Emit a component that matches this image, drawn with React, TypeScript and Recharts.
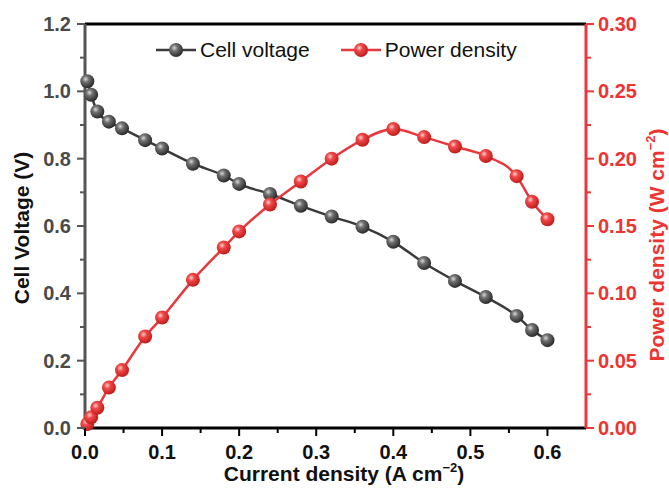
import { LineChart, Line, XAxis, YAxis, ReferenceLine } from 'recharts';

// Current density (A cm^-2)
const current = [0.003, 0.008, 0.016, 0.031, 0.048, 0.078, 0.1, 0.14, 0.18, 0.2, 0.24, 0.28, 0.32, 0.36, 0.4, 0.44, 0.48, 0.52, 0.56, 0.58, 0.6];
// Cell voltage (V)
const voltage = [1.03, 0.99, 0.94, 0.91, 0.89, 0.855, 0.83, 0.785, 0.75, 0.725, 0.695, 0.66, 0.628, 0.598, 0.553, 0.49, 0.437, 0.389, 0.333, 0.291, 0.261];
// Power density (W cm^-2)
const power = [0.003, 0.008, 0.015, 0.03, 0.043, 0.068, 0.082, 0.11, 0.134, 0.146, 0.166, 0.183, 0.2, 0.214, 0.222, 0.216, 0.209, 0.202, 0.187, 0.168, 0.155];

const xTicks = [0, 0.05, 0.1, 0.15, 0.2, 0.25, 0.3, 0.35, 0.4, 0.45, 0.5, 0.55, 0.6];
const vTicks = [0, 0.1, 0.2, 0.3, 0.4, 0.5, 0.6, 0.7, 0.8, 0.9, 1.0, 1.1, 1.2];
const pTicks = [0, 0.025, 0.05, 0.075, 0.1, 0.125, 0.15, 0.175, 0.2, 0.225, 0.25, 0.275, 0.3];

const data = current.map((c, i) => ({ current: c, voltage: voltage[i], power: power[i] }));

const FONT = 'Liberation Sans, Arial, sans-serif';
const GRAY = '#3a3a3a';
const RED = '#e8383d';
const RED_TEXT = '#ee3333';

const Sphere = ({ cx, cy, grad }: { cx: number; cy: number; grad: string }) => (
  <circle cx={cx} cy={cy} r={7} fill={`url(#${grad})`} stroke="none" />
);

const Gradients = () => (
  <defs>
    <radialGradient id="gGray" cx="38%" cy="35%" r="65%">
      <stop offset="0%" stopColor="#d8d8d8" />
      <stop offset="35%" stopColor="#707070" />
      <stop offset="100%" stopColor="#2a2a2a" />
    </radialGradient>
    <radialGradient id="gRed" cx="38%" cy="35%" r="65%">
      <stop offset="0%" stopColor="#ffd0d0" />
      <stop offset="35%" stopColor="#f04848" />
      <stop offset="100%" stopColor="#c01c1c" />
    </radialGradient>
  </defs>
);

const LeftTick = (props: any) => {
  const { x, y, payload } = props;
  const major = vTicks.indexOf(payload.value) % 2 === 0;
  return (
    <g>
      <line x1={x} x2={x - (major ? 8 : 5)} y1={y} y2={y} stroke="#555" strokeWidth={2} />
      {major && (
        <text x={x - 14} y={y} dy="0.35em" textAnchor="end" fontFamily={FONT} fontWeight="bold" fontSize={20} fill="#4a4a4a">
          {payload.value.toFixed(1)}
        </text>
      )}
    </g>
  );
};

const RightTick = (props: any) => {
  const { x, y, payload } = props;
  const major = pTicks.indexOf(payload.value) % 2 === 0;
  return (
    <g>
      <line x1={x} x2={x + (major ? 8 : 5)} y1={y} y2={y} stroke={RED} strokeWidth={2} />
      {major && (
        <text x={x + 12} y={y} dy="0.35em" textAnchor="start" fontFamily={FONT} fontWeight="bold" fontSize={20} fill={RED_TEXT}>
          {payload.value.toFixed(2)}
        </text>
      )}
    </g>
  );
};

const BottomTick = (props: any) => {
  const { x, y, payload } = props;
  const major = xTicks.indexOf(payload.value) % 2 === 0;
  return (
    <g>
      <line x1={x} x2={x} y1={y} y2={y + (major ? 8 : 5)} stroke="#000" strokeWidth={2} />
      {major && (
        <text x={x} y={y + 31} textAnchor="middle" fontFamily={FONT} fontWeight="bold" fontSize={20} fill="#111">
          {payload.value.toFixed(1)}
        </text>
      )}
    </g>
  );
};

const LegendItem = ({ grad, color, label }: { grad: string; color: string; label: string }) => (
  <div style={{ display: 'flex', alignItems: 'center', marginRight: 30 }}>
    <svg width={42} height={20}>
      <Gradients />
      <line x1={1} x2={41} y1={10} y2={10} stroke={color} strokeWidth={2.5} />
      <circle cx={21} cy={10} r={7} fill={`url(#${grad})`} />
    </svg>
    <span style={{ marginLeft: 3, fontFamily: FONT, fontSize: 21, color: '#111' }}>{label}</span>
  </div>
);

export default function App() {
  return (
    <div style={{ position: 'absolute', left: 0, top: 0, width: 669, height: 489, background: '#fff' }}>
      <LineChart width={669} height={489} data={data} margin={{ top: 24, right: 0, bottom: 0, left: 0 }}>
        <Gradients />
        <XAxis
          dataKey="current"
          type="number"
          domain={[0, 0.65]}
          ticks={xTicks}
          interval={0}
          height={61}
          tickLine={false}
          tickSize={0}
          tickMargin={0}
          axisLine={{ stroke: '#000', strokeWidth: 3 }}
          tick={<BottomTick />}
          label={{
            content: () => (
              <text x={344} y={481} textAnchor="middle" fontFamily={FONT} fontWeight="bold" fontSize={21} fill="#111">
                Current density (A cm<tspan dy={-9} fontSize={13}>−2</tspan>
                <tspan dy={9}>)</tspan>
              </text>
            ),
          }}
        />
        <YAxis
          yAxisId="v"
          orientation="left"
          domain={[0, 1.2]}
          ticks={vTicks}
          interval={0}
          width={85}
          tickLine={false}
          tickSize={0}
          tickMargin={0}
          axisLine={{ stroke: '#555', strokeWidth: 3 }}
          tick={<LeftTick />}
          label={{
            content: () => (
              <text x={29} y={228} transform="rotate(-90 29 228)" textAnchor="middle" fontFamily={FONT} fontWeight="bold" fontSize={21} fill="#111">
                Cell Voltage (V)
              </text>
            ),
          }}
        />
        <YAxis
          yAxisId="p"
          orientation="right"
          domain={[0, 0.3]}
          ticks={pTicks}
          interval={0}
          width={83}
          tickLine={false}
          tickSize={0}
          tickMargin={0}
          axisLine={{ stroke: RED, strokeWidth: 3 }}
          tick={<RightTick />}
          label={{
            content: () => (
              <text x={664} y={245} transform="rotate(-90 664 245)" textAnchor="middle" fontFamily={FONT} fontWeight="bold" fontSize={21} fill={RED_TEXT}>
                Power density (W cm<tspan dy={-9} fontSize={13}>−2</tspan>
                <tspan dy={9}>)</tspan>
              </text>
            ),
          }}
        />
        <ReferenceLine yAxisId="v" y={1.2} stroke="#000" strokeWidth={3} />
        <Line
          yAxisId="v"
          type="monotone"
          dataKey="voltage"
          stroke={GRAY}
          strokeWidth={2.5}
          dot={(p: any) => <Sphere key={`v${p.index}`} cx={p.cx} cy={p.cy} grad="gGray" />}
          activeDot={false}
          isAnimationActive={false}
        />
        <Line
          yAxisId="p"
          type="monotone"
          dataKey="power"
          stroke={RED}
          strokeWidth={2.5}
          dot={(p: any) => <Sphere key={`p${p.index}`} cx={p.cx} cy={p.cy} grad="gRed" />}
          activeDot={false}
          isAnimationActive={false}
        />
      </LineChart>
      <div style={{ position: 'absolute', left: 155, top: 38, display: 'flex' }}>
        <LegendItem grad="gGray" color={GRAY} label="Cell voltage" />
        <LegendItem grad="gRed" color={RED} label="Power density" />
      </div>
    </div>
  );
}
